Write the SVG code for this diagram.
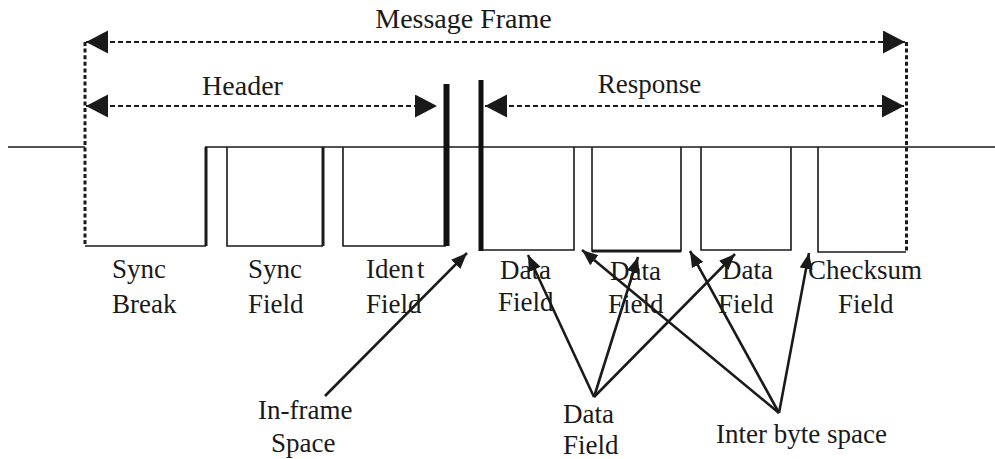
<svg xmlns="http://www.w3.org/2000/svg" width="995" height="459" viewBox="0 0 995 459">
  <style>
    .lbl { font-family: 'Liberation Serif', 'Times New Roman', Times, 'DejaVu Serif', serif; font-size: 27px; fill: #1a1a1a; }
    .big { font-size: 28px; }
    .wave { fill: none; stroke: #1a1a1a; stroke-width: 1.6; }
    .edge { fill: none; stroke: #1a1a1a; stroke-width: 3; }
    .bar { fill: none; stroke: #111; }
    .span { fill: none; stroke: #1a1a1a; stroke-width: 2; stroke-dasharray: 5 3; marker-start: url(#bigHead); marker-end: url(#bigHead); }
    .dots { fill: none; stroke: #1a1a1a; stroke-width: 3; stroke-dasharray: 4 2.6; }
    .ptr { fill: none; stroke: #1a1a1a; stroke-width: 2.6; marker-end: url(#smallHead); }
  </style>
  <defs>
    <marker id="bigHead" markerUnits="userSpaceOnUse" markerWidth="23" markerHeight="24" refX="22" refY="11.5" orient="auto-start-reverse">
      <path d="M0,0 L22,11.5 L0,23 Z" fill="#1a1a1a"/>
    </marker>
    <marker id="smallHead" markerUnits="userSpaceOnUse" markerWidth="17" markerHeight="14" refX="16" refY="6.5" orient="auto">
      <path d="M0,0 L16,6.5 L0,13 Z" fill="#1a1a1a"/>
    </marker>
  </defs>

  <!-- idle line and frame boundaries -->
  <g id="signal">
    <path class="wave" d="M8,147 H85"/>
    <path class="wave" d="M205,147 H995"/>
  </g>

  <g id="sync-break">
    <path class="wave" d="M85,246 H206"/>
    <path class="edge" d="M206,246 V147"/>
    <text class="lbl" x="112" y="278">Sync</text>
    <text class="lbl" x="112" y="313">Break</text>
  </g>

  <g id="sync-field">
    <path class="wave" d="M227,147 V246 H323"/>
    <path class="edge" d="M323,246 V147"/>
    <text class="lbl" x="248" y="278">Sync</text>
    <text class="lbl" x="248" y="313">Field</text>
  </g>

  <g id="ident-field">
    <path class="wave" d="M343,147 V246 H446"/>
    <path class="bar" stroke-width="6" d="M446.5,84 V246"/>
    <text class="lbl" x="366" y="278">Iden<tspan dx="3">t</tspan></text>
    <text class="lbl" x="366" y="313">Field</text>
  </g>

  <g id="data-field-1">
    <path class="bar" stroke-width="5" d="M481,80 V251"/>
    <path class="wave" d="M481,250 H574 V147"/>
    <text class="lbl" x="500" y="279">Data</text>
    <text class="lbl" x="498" y="311">Field</text>
  </g>

  <g id="data-field-2">
    <path class="wave" stroke-width="2" d="M592,147 V251 H681 V147"/>
    <path class="edge" stroke-width="3.5" d="M592,251 H681"/>
    <text class="lbl" x="610" y="280">Data</text>
    <text class="lbl" x="608" y="313">Field</text>
  </g>

  <g id="data-field-3">
    <path class="wave" d="M701,147 V250 H791 V147"/>
    <text class="lbl" x="722" y="279">Data</text>
    <text class="lbl" x="718" y="313">Field</text>
  </g>

  <g id="checksum-field">
    <path class="wave" d="M818,147 V252 H906"/>
    <text class="lbl" x="808" y="279">Checksum</text>
    <text class="lbl" x="838" y="313">Field</text>
  </g>

  <!-- frame spans -->
  <g id="spans">
    <path class="dots" d="M85,42 V246"/>
    <path class="dots" d="M906.5,42 V252"/>
    <path class="span" d="M86,42 H905"/>
    <path class="span" d="M86,106 H437"/>
    <path class="span" d="M485,106 H904"/>
    <text class="lbl big" x="463.5" y="28" text-anchor="middle">Message Frame</text>
    <text class="lbl big" x="242.5" y="95" text-anchor="middle">Header</text>
    <text class="lbl" x="649.5" y="93" text-anchor="middle">Response</text>
  </g>

  <!-- callout labels -->
  <g id="in-frame-space">
    <text class="lbl" x="258" y="419">In-frame</text>
    <text class="lbl" x="271" y="452">Space</text>
  </g>
  <g id="data-field-note">
    <text class="lbl" x="563" y="423">Data</text>
    <text class="lbl" x="563" y="454">Field</text>
  </g>
  <g id="inter-byte-space">
    <text class="lbl" x="716" y="443">Inter byte space</text>
  </g>

  <!-- connectors -->
  <g id="connectors">
    <path class="ptr" d="M325,396 L467,253"/>
    <path class="ptr" d="M594,397 L528,255"/>
    <path class="ptr" d="M594,397 L638,257"/>
    <path class="ptr" d="M594,397 L735,254"/>
    <path class="ptr" d="M779,413 L582,250"/>
    <path class="ptr" d="M779,413 L690,251"/>
    <path class="ptr" d="M779,413 L809,253"/>
  </g>
</svg>
